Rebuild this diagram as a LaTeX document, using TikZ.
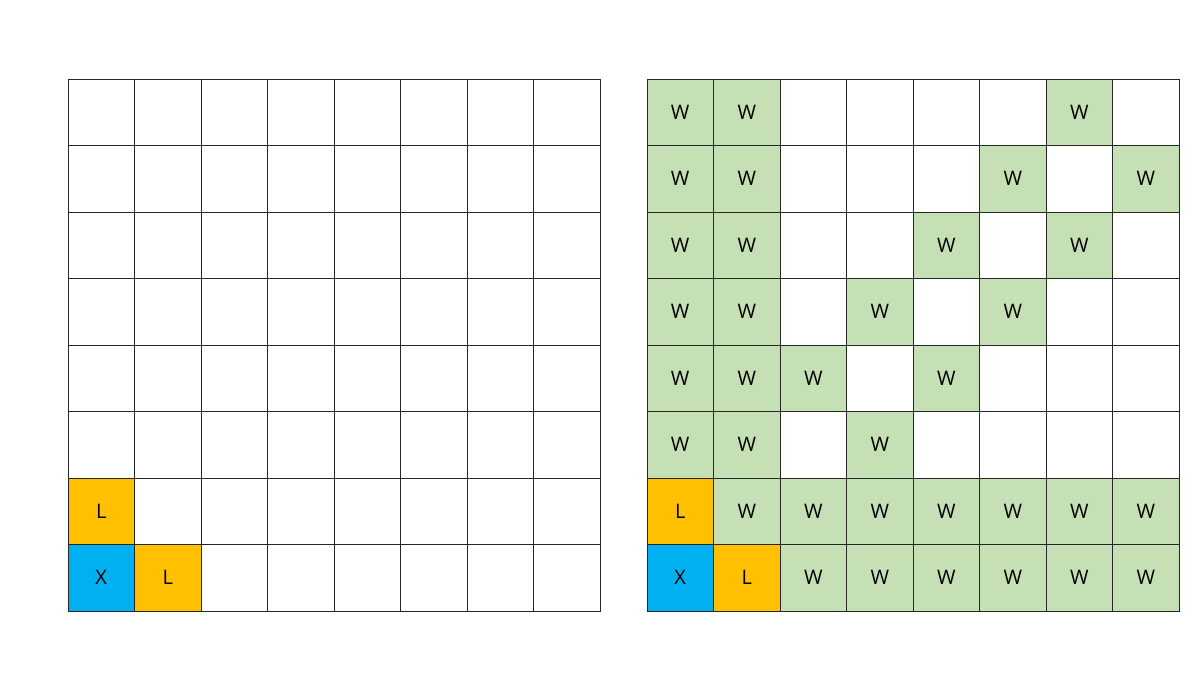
\documentclass[tikz,border=0pt]{standalone}
\usepackage{fontspec}
\setmainfont{Open Sans}
\definecolor{cblue}{HTML}{00B0F0}
\definecolor{corange}{HTML}{FFC000}
\definecolor{cgreen}{HTML}{C5E0B4}
\definecolor{cline}{HTML}{262626}
\begin{document}
\begin{tikzpicture}[x=0.75pt,y=-0.75pt,
  cell/.style={draw=cline,line width=0.75pt,minimum size=49.875pt,inner sep=0pt,anchor=center,font=\fontsize{15}{17}\selectfont},
  wcell/.style={cell,fill=cgreen},
  lcell/.style={cell,fill=corange},
  xcell/.style={cell,fill=cblue},
  ecell/.style={cell,fill=white}]
\useasboundingbox (0,0) rectangle (1200,675);
\def\cs{66.5}
% left grid
\foreach \r in {0,...,7}{
  \foreach \c in {0,...,7}{
    \node[ecell] (a-\r-\c) at ({68+\cs*(\c+0.5)},{79+\cs*(\r+0.5)}) {};
  }
}
\node[lcell] (a-6-0) at ({68+\cs*0.5},{79+\cs*6.5}) {L};
\node[xcell] (a-7-0) at ({68+\cs*0.5},{79+\cs*7.5}) {X};
\node[lcell] (a-7-1) at ({68+\cs*1.5},{79+\cs*7.5}) {L};
% right grid
\foreach \r in {0,...,7}{
  \foreach \c in {0,...,7}{
    \node[ecell] (b-\r-\c) at ({647+\cs*(\c+0.5)},{79+\cs*(\r+0.5)}) {};
  }
}
\foreach \r/\c in {0/0,0/1,0/6,1/0,1/1,1/5,1/7,2/0,2/1,2/4,2/6,3/0,3/1,3/3,3/5,4/0,4/1,4/2,4/4,5/0,5/1,5/3,6/1,6/2,6/3,6/4,6/5,6/6,6/7,7/2,7/3,7/4,7/5,7/6,7/7}{
  \node[wcell] (b-\r-\c) at ({647+\cs*(\c+0.5)},{79+\cs*(\r+0.5)}) {W};
}
\node[lcell] (b-6-0) at ({647+\cs*0.5},{79+\cs*6.5}) {L};
\node[xcell] (b-7-0) at ({647+\cs*0.5},{79+\cs*7.5}) {X};
\node[lcell] (b-7-1) at ({647+\cs*1.5},{79+\cs*7.5}) {L};
\end{tikzpicture}
\end{document}
